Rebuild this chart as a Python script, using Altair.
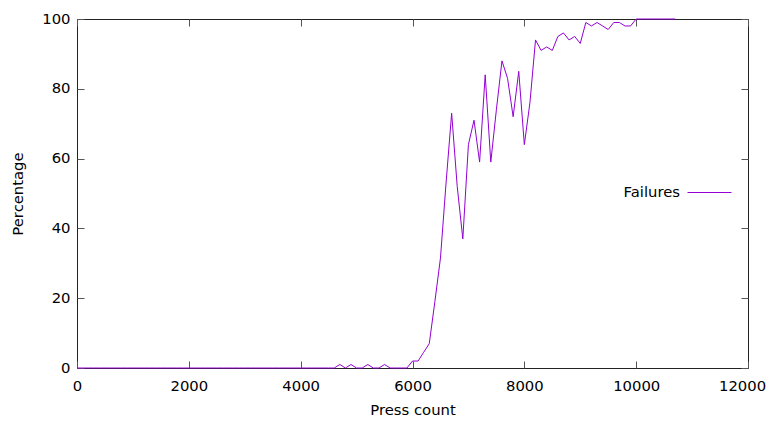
import altair as alt
import pandas as pd

press = list(range(0, 10800, 100))
pct = [
    0, 0, 0, 0, 0, 0, 0, 0, 0, 0,        # 0-900
    0, 0, 0, 0, 0, 0, 0, 0, 0, 0,        # 1000-1900
    0, 0, 0, 0, 0, 0, 0, 0, 0, 0,        # 2000-2900
    0, 0, 0, 0, 0, 0, 0, 0, 0, 0,        # 3000-3900
    0, 0, 0, 0, 0, 0, 0, 1, 0, 1,        # 4000-4900
    0, 0, 1, 0, 0, 1, 0, 0, 0, 0,        # 5000-5900
    2, 2, 4.5, 7, 19, 31.5, 53, 73, 52, 37,  # 6000-6900
    64, 71, 59, 84, 59, 74, 88, 83, 72, 85,  # 7000-7900
    64, 76, 94, 91, 92, 91, 95, 96, 94, 95,  # 8000-8900
    93, 99, 98, 99, 98, 97, 99, 99, 98, 98,  # 9000-9900
    100, 100, 100, 100, 100, 100, 100, 100,  # 10000-10700
]
series = ["Failures"] * len(press)

x_ticks = [0, 2000, 4000, 6000, 8000, 10000, 12000]
y_ticks = [0, 20, 40, 60, 80, 100]

df = pd.DataFrame({"press": press, "pct": pct, "series": series})

FONT = "DejaVu Sans"
FS = 14.8
PURPLE = "#9400D3"

xscale = alt.Scale(domain=[0, 12000], nice=False, zero=False)
yscale = alt.Scale(domain=[0, 100], nice=False, zero=False)

main = alt.Chart(df).mark_line(strokeWidth=1).encode(
    x=alt.X("press:Q", scale=xscale, title="Press count",
            axis=alt.Axis(orient="bottom", values=x_ticks, offset=-7, tickSize=7,
                          domain=False, grid=False, labelPadding=10.5, labelFlush=False,
                          labelOffset={"condition": {"test": "datum.value >= 12000", "value": -6},
                                       "value": 0},
                          titlePadding=9.5, format="d")),
    y=alt.Y("pct:Q", scale=yscale, title="Percentage",
            axis=alt.Axis(orient="left", values=y_ticks, offset=-7, tickSize=7,
                          domain=False, grid=False, labelPadding=7, labelFlush=False,
                          titlePadding=16, format="d")),
    color=alt.Color("series:N", scale=alt.Scale(range=[PURPLE]),
                    legend=alt.Legend(title=None, orient="none", legendX=610, legendY=151,
                                      padding=0, symbolType="stroke", symbolSize=1936,
                                      symbolStrokeWidth=1, symbolOffset=0,
                                      labelAlign="right", labelOffset={"expr": "-52"},
                                      labelFont=FONT, labelFontSize=FS, labelColor="black")),
)

mirror = alt.Chart(df).mark_line(opacity=0).encode(
    x=alt.X("press:Q", scale=xscale,
            axis=alt.Axis(orient="top", values=x_ticks, offset=-7, tickSize=7,
                          domain=False, grid=False, labels=False, title=None)),
    y=alt.Y("pct:Q", scale=yscale,
            axis=alt.Axis(orient="right", values=y_ticks, offset=-7, tickSize=7,
                          domain=False, grid=False, labels=False, title=None)),
)

chart = alt.layer(main, mirror).resolve_axis(x="independent", y="independent").properties(
    width=671, height=349,
    autosize=alt.AutoSizeParams(type="none"),
    padding={"left": 69, "top": 11, "right": 20, "bottom": 52},
    background="white",
).configure_view(stroke="#222", strokeWidth=1).configure_axis(
    labelFont=FONT, labelFontSize=FS, labelColor="black",
    titleFont=FONT, titleFontSize=FS, titleFontWeight="normal", titleColor="black",
    tickColor="#555", tickWidth=1,
)

chart.save("out.html", embed_options={"renderer": "svg", "actions": False})
